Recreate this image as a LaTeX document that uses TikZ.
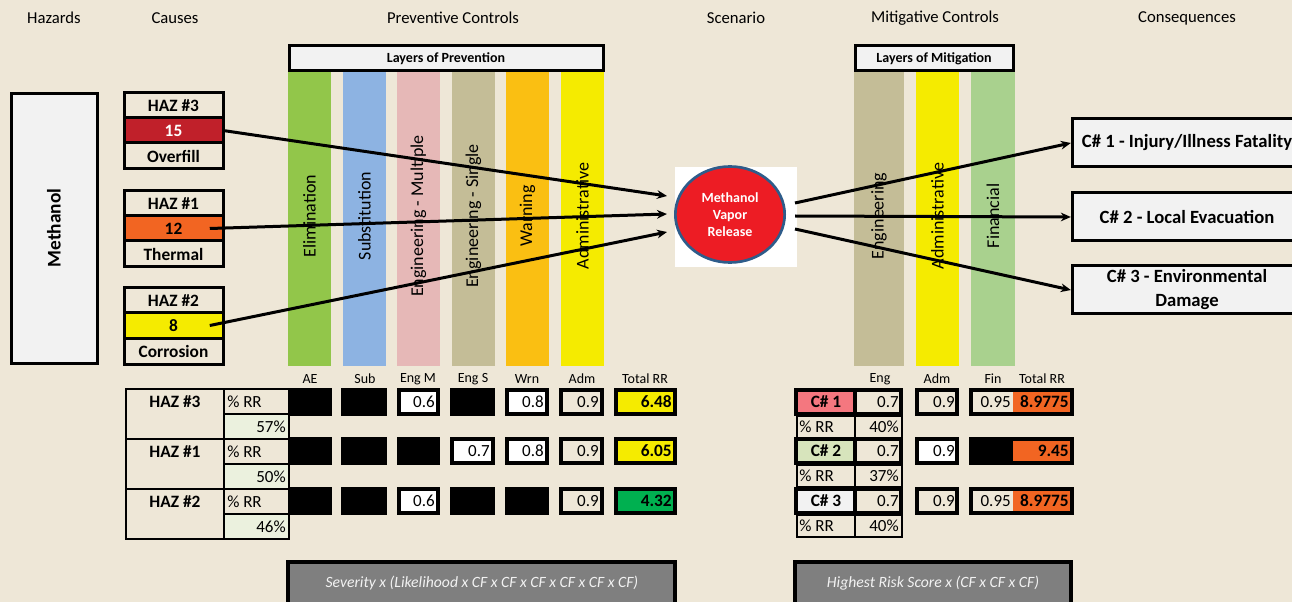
\documentclass[tikz,border=0pt]{standalone}
\usepackage{fontspec}
\setmainfont{Carlito}
\usepackage{xcolor}
\usepackage{tikz}
\usetikzlibrary{arrows.meta,positioning,calc}
\usetikzlibrary{shapes.geometric}
\definecolor{bg}{HTML}{EEE7D7}
\definecolor{boxgray}{HTML}{F2F2F2}
\definecolor{hazred}{HTML}{C0202A}
\definecolor{hazorange}{HTML}{F26522}
\definecolor{hazyellow}{HTML}{F5EB00}
\definecolor{elimgreen}{HTML}{92C64A}
\definecolor{subblue}{HTML}{8DB3E2}
\definecolor{engpink}{HTML}{E6B8B7}
\definecolor{engtan}{HTML}{C4BD97}
\definecolor{warnorange}{HTML}{FABF12}
\definecolor{fingreen}{HTML}{A9D18E}
\definecolor{pctgreen}{HTML}{EBF1DE}
\definecolor{totgreen}{HTML}{00B050}
\definecolor{scenred}{HTML}{ED1C24}
\definecolor{scenblue}{HTML}{2E5C8A}
\definecolor{cpink}{HTML}{F4777F}
\definecolor{cgreen}{HTML}{D7E4BC}
\definecolor{formgray}{HTML}{7F7F7F}

\begin{document}
\begin{tikzpicture}[x=0.75pt,y=-0.75pt,
	head/.style={font=\fontsize{12.5}{15}\selectfont},
	bold12/.style={font=\fontsize{13}{15}\selectfont\bfseries},
	tab/.style={font=\fontsize{12.75}{15}\selectfont,inner sep=0pt},
	collab/.style={font=\fontsize{10.5}{12}\selectfont},
	layertxt/.style={font=\fontsize{13.5}{16}\selectfont,rotate=90},
	layerbold/.style={font=\fontsize{10.5}{12}\selectfont\bfseries},
	frame/.style={draw=black,line width=2.25pt},
	vframe/.style={draw=black,line width=3pt},
	thinframe/.style={draw=black,line width=1.5pt},
	flow/.style={line width=2.25pt,-{Stealth[length=7.5pt,width=6.5pt]}},
	cons/.style={draw,line width=2.25pt,fill=boxgray,minimum width=172pt,minimum height=36pt,inner sep=0pt,align=center,font=\fontsize{14}{18}\selectfont\bfseries},
	formtxt/.style={text=boxgray,font=\fontsize{11.75}{14}\selectfont\itshape}]
	\fill[bg] (0,0) rectangle (1292,602);
	\useasboundingbox (0,0) rectangle (1292,602);
	\foreach \xx/\txt [count=\i] in {54/Hazards,175/Causes,453/Preventive Controls,736/Scenario,935/Mitigative Controls,1187/Consequences}
		\node[head] (title\i) at (\xx,18) {\txt};
	\draw[frame,fill=boxgray] (11,94) rectangle (97,363);
	\node[rotate=90,font=\fontsize{14.5}{17}\selectfont\bfseries] (meth) at (54,228) {Methanol};
	\foreach \ty/\num/\val/\col/\tc/\cs in {93/3/15/hazred/white/Overfill,191/1/12/hazorange/black/Thermal,288/2/8/hazyellow/black/Corrosion}{
		\fill[\col] (124,\ty+25) rectangle (223,\ty+50);
		\draw[frame] (124,\ty) rectangle (223,\ty+76) (124,\ty+25) -- (223,\ty+25) (124,\ty+50) -- (223,\ty+50);
		\node[bold12] (haz\num) at (173.5,\ty+12.5) {HAZ \#\num};
		\node[bold12,text=\tc,minimum width=74pt,minimum height=18pt,inner sep=0pt] (val\num) at (173.5,\ty+37.5) {\val};
		\node[bold12] (cause\num) at (173.5,\ty+63) {\cs};
	}
	\foreach \xx/\col/\txt [count=\i] in {288/elimgreen/Elimination,343/subblue/Substitution,397/engpink/Engineering - Multiple,452/engtan/Engineering - Single,506/warnorange/Warning,561/hazyellow/Administrative}{
		\fill[\col] (\xx,72) rectangle (\xx+43,366);
		\node[layertxt] (prev\i) at (\xx+21.5,216) {\txt};
	}
	\draw[frame,fill=boxgray] (289,46) rectangle (603,71);
	\node[layerbold] (prevhead) at (446,58.5) {Layers of Prevention};
	\foreach \xx/\ww/\col/\txt [count=\i] in {854/50/engtan/Engineering,916/43/hazyellow/Administrative,971/44/fingreen/Financial}{
		\fill[\col] (\xx,72) rectangle (\xx+\ww,366);
		\node[layertxt] (mit\i) at (\xx+\ww/2,216) {\txt};
	}
	\draw[frame,fill=boxgray] (855,46) rectangle (1013,71);
	\node[layerbold] (mithead) at (934,58.5) {Layers of Mitigation};
	\fill[white] (675,167) rectangle (797,267);
	\node[ellipse,draw=scenblue,line width=2pt,fill=scenred,minimum width=82pt,minimum height=72pt,inner sep=0pt,text=white,align=center,font=\fontsize{10.5}{12.75}\selectfont\bfseries] (scen) at (730,214.5) {Methanol\\Vapor\\Release};
	\coordinate (in3) at (667,196);
	\coordinate (in1) at (667,214);
	\coordinate (in2) at (667,232);
	\draw[flow] (val3.east) -- (in3);
	\draw[flow] ([xshift=-10pt]val1.east) -- (in1);
	\draw[flow] ([xshift=-10pt]val2.east) -- (in2);
	\node[cons] (cons1) at (1187,143) {C\# 1 - Injury/Illness Fatality};
	\node[cons] (cons2) at (1187,217) {C\# 2 - Local Evacuation};
	\node[cons] (cons3) at (1187,290) {C\# 3 - Environmental\\Damage};
	\coordinate (out1) at (795,203);
	\coordinate (out2) at (795,216);
	\coordinate (out3) at (795,229);
	\foreach \i in {1,2,3}
		\draw[flow] (out\i) -- (cons\i.west);
	\foreach \xx/\txt [count=\i] in {310/AE,365/Sub,418/Eng M,473/Eng S,527/Wrn,582/Adm,645/Total RR,880/Eng,937/Adm,993/Fin,1042/Total RR}
		\node[collab] (lab\i) at (\xx,379) {\txt};
	\foreach \ty/\num/\pct in {389/3/57,439/1/50,489/2/46}{
		\fill[pctgreen] (224,\ty+25) rectangle (289,\ty+50);
		\draw[thinframe] (126,\ty) rectangle (289,\ty+50) (224,\ty) -- (224,\ty+50) (224,\ty+25) -- (289,\ty+25);
		\node[bold12] (rowhaz\num) at (175,\ty+13) {HAZ \#\num};
		\node[tab,anchor=west] (rr\num) at (227,\ty+13) {\% RR};
		\node[tab,anchor=east] (pct\num) at (286,\ty+38) {\pct\%};
	}
	\foreach \ty/\cells in {388/{288/332/black/,341/387/black/,397/440/white/0.6,450/495/black/,505/549/white/0.8,559/604/bg/0.9},437/{288/332/black/,341/387/black/,397/440/black/,450/495/white/0.7,505/549/white/0.8,559/604/bg/0.9},487/{288/332/black/,341/387/black/,397/440/white/0.6,450/495/black/,505/549/black/,559/604/bg/0.9}}{
		\foreach \xa/\xb/\col/\val in \cells{
			\filldraw[vframe,fill=\col] (\xa+2,\ty+2) rectangle (\xb-2,\ty+26);
			\node[tab,anchor=east] (cell\ty-\xa) at (\xb-5,\ty+14) {\val};
		}
	}
	\foreach \ty/\tot/\col in {388/6.48/hazyellow,437/6.05/hazyellow,487/4.32/totgreen}{
		\filldraw[vframe,fill=\col] (616,\ty+2) rectangle (675,\ty+26);
		\node[bold12,inner sep=0pt,anchor=east] (tot\ty) at (672,\ty+14) {\tot};
	}
	\foreach \ty/\num/\col/\pct in {388/1/cpink/40,437/2/cgreen/37,487/3/boxgray/40}{
		\fill[\col] (796,\ty+2) rectangle (855,\ty+26);
		\draw[vframe] (796,\ty+2) rectangle (901,\ty+26) (855,\ty+2) -- (855,\ty+26);
		\node[bold12] (cid\num) at (826,\ty+14) {C\# \num};
		\node[tab,anchor=east] (ceng\num) at (899,\ty+14) {0.7};
		\draw[thinframe] (797,\ty+28) rectangle (902,\ty+50) (855,\ty+28) -- (855,\ty+50);
		\node[tab,anchor=west] (crr\num) at (799,\ty+39) {\% RR};
		\node[tab,anchor=east] (cpct\num) at (899,\ty+39) {\pct\%};
	}
	\foreach \ty/\col in {388/bg,437/white,487/bg}{
		\filldraw[vframe,fill=\col] (917,\ty+2) rectangle (957,\ty+26);
		\node[tab,anchor=east] (cadm\ty) at (955,\ty+14) {0.9};
	}
	\foreach \ty/\col/\fin/\tot in {388/bg/0.95/8.9775,437/black//9.45,487/bg/0.95/8.9775}{
		\fill[\col] (971,\ty+2) rectangle (1013,\ty+26);
		\fill[hazorange] (1013,\ty+2) rectangle (1072,\ty+26);
		\draw[vframe] (971,\ty+2) rectangle (1072,\ty+26);
		\node[tab,anchor=east] (cfin\ty) at (1011,\ty+14) {\fin};
		\node[bold12,inner sep=0pt,anchor=east] (ctot\ty) at (1069,\ty+14) {\tot};
	}
	\filldraw[vframe,fill=formgray] (288,562) rectangle (675,614);
	\node[formtxt] (form1) at (482,583) {Severity x (Likelihood x CF x CF x CF x CF x CF x CF)};
	\filldraw[vframe,fill=formgray] (795,562) rectangle (1071,614);
	\node[formtxt] (form2) at (933,583) {Highest Risk Score x (CF x CF x CF)};
\end{tikzpicture}
\end{document}
